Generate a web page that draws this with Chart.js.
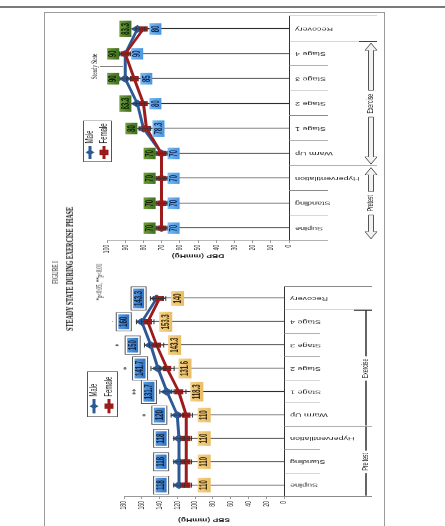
<!DOCTYPE html>
<html lang="en">
<head>
<meta charset="UTF-8">
<title>Figure I</title>
<script src="https://cdn.jsdelivr.net/npm/chart.js"></script>
<style>
  html, body { margin:0; padding:0; overflow:hidden; background:#fff; }
  body { width:445px; height:526px; position:relative; }
  .topline { position:absolute; left:0; top:6px; width:445px; height:2px; background:#7a7a7a; }
  .frame { position:absolute; left:44px; top:12px; width:341px; height:540px; border:1px solid #9a9a9a; box-sizing:border-box; }
  /* the whole figure is drawn upright, then squeezed and turned on its side */
  .fig { position:absolute; left:-225px; top:106px; width:880px; height:340px;
         transform-origin:50% 50%; transform:rotate(-90deg) scaleX(0.6); }
  .fig canvas { position:absolute; top:0; }
  .txt { position:absolute; text-align:center; font-family:"Liberation Serif", serif; color:#111; white-space:nowrap; }
</style>
</head>
<body>
<div class="topline"></div>
<div class="frame"></div>

<div class="fig">
  <canvas id="sbpChart" width="440" height="340" style="left:0;"></canvas>
  <canvas id="dbpChart" width="435" height="340" style="left:445px;"></canvas>
  <div class="txt" style="left:346px;top:4px;width:200px;font-size:9px;line-height:12px;">FIGURE I</div>
  <div class="txt" style="left:302px;top:19px;width:300px;font-size:10px;line-height:12px;font-weight:bold;">STEADY STATE DURING EXERCISE PHASE</div>
  <div class="txt" style="left:330px;top:49px;width:200px;font-size:8px;line-height:12px;">*p&lt;0.05, **p&lt;0.01</div>
</div>

<script>
// ---------------- data ----------------
const categories = ['Supine', 'Standing', 'Hyperventilation', 'Warm Up', 'Stage 1', 'Stage 2', 'Stage 3', 'Stage 4', 'Recovery'];

const sbpMale     = [118, 118, 118, 120, 131.7, 141.7, 150, 160, 143.3];
const sbpFemale   = [110, 110, 110, 110, 118.3, 131.6, 143.3, 153.3, 140];
const sbpMaleSd   = [6, 6, 6, 7, 8, 8, 7, 6, 7];
const sbpFemaleSd = [6, 6, 6, 7, 8, 8, 8, 7, 7];
const sbpSig      = ['', '', '', '*', '**', '*', '*', '.', ''];

const dbpMale     = [70, 70, 70, 70, 80, 83.3, 90, 90, 83.3];
const dbpFemale   = [70, 70, 70, 70, 78.3, 80, 85, 90, 80];
const dbpMaleSd   = [3, 3, 3, 3, 4, 4, 3, 3, 4];
const dbpFemaleSd = [3, 3, 3, 3, 4, 4, 4, 3, 4];

const sbpTicks = { min: 0, max: 180, step: 20 };
const dbpTicks = { min: 0, max: 100, step: 10 };

const seriesNames = ['Male', 'Female'];
const maleColor = '#2d5a96';
const femaleColor = '#9c1c1c';

// ---------------- helpers ----------------
function arrow(ctx, xs, xe, yc) {
  const d = Math.sign(xe - xs), hl = 12, sw = 2.5, hw = 6;
  const xh = xe - d * hl;
  ctx.beginPath();
  ctx.moveTo(xs, yc - sw); ctx.lineTo(xh, yc - sw); ctx.lineTo(xh, yc - hw);
  ctx.lineTo(xe, yc); ctx.lineTo(xh, yc + hw); ctx.lineTo(xh, yc + sw);
  ctx.lineTo(xs, yc + sw); ctx.closePath();
  ctx.fillStyle = '#f2f2f2'; ctx.fill();
  ctx.strokeStyle = '#555'; ctx.lineWidth = 1; ctx.stroke();
}

function marker(ctx, style, cx, cy, r, color) {
  ctx.fillStyle = color;
  ctx.beginPath();
  if (style === 'rectRot') {
    ctx.moveTo(cx, cy - r); ctx.lineTo(cx + r, cy); ctx.lineTo(cx, cy + r); ctx.lineTo(cx - r, cy);
  } else {
    ctx.rect(cx - r, cy - r, 2 * r, 2 * r);
  }
  ctx.closePath(); ctx.fill();
}

// drop lines, separators, brackets, error bars, value boxes, legend
const decoPlugin = {
  id: 'deco',
  beforeDatasetsDraw(chart, args, o) {
    const { ctx, chartArea: ca, scales: { x, y } } = chart;
    const a = chart.data.datasets[0].data, b = chart.data.datasets[1].data;
    ctx.save();
    ctx.lineWidth = 1.3;
    ctx.strokeStyle = '#2e2e2e';
    a.forEach((v, i) => {
      const px = Math.round(x.getPixelForValue(i)) + 0.5;
      ctx.beginPath();
      ctx.moveTo(px, y.getPixelForValue(Math.max(v, b[i])));
      ctx.lineTo(px, ca.bottom);
      ctx.stroke();
    });

    ctx.lineWidth = 1;
    ctx.strokeStyle = '#8a8a8a';
    for (let k = 0; k <= a.length; k++) {
      const px = Math.round(x.getPixelForValue(k - 0.5)) + 0.5;
      const len = o.longAt.includes(k) ? o.longLen : o.shortLen;
      ctx.beginPath(); ctx.moveTo(px, ca.bottom); ctx.lineTo(px, ca.bottom + len); ctx.stroke();
    }
    // end cap of the exercise group
    const pc = x.getPixelForValue(7.5);
    ctx.strokeStyle = '#444'; ctx.lineWidth = 2;
    ctx.beginPath(); ctx.moveTo(pc, ca.bottom + 70); ctx.lineTo(pc, ca.bottom + o.longLen); ctx.stroke();

    ctx.font = '8.5px "Liberation Sans"';
    ctx.textAlign = 'center'; ctx.textBaseline = 'middle';
    o.groups.forEach(g => {
      const x0 = x.getPixelForValue(g.from - 0.5), x1 = x.getPixelForValue(g.to + 0.5);
      const mid = (x0 + x1) / 2, gy = ca.bottom + o.groupY;
      const tw = ctx.measureText(g.label).width;
      ctx.fillStyle = '#222';
      ctx.fillText(g.label, mid, gy);
      if (o.arrows) {
        arrow(ctx, mid - tw / 2 - 6, x0 + 3, gy);
        arrow(ctx, mid + tw / 2 + 6, x1 - 3, gy);
      } else {
        ctx.strokeStyle = '#333'; ctx.lineWidth = 1.5;
        ctx.beginPath();
        ctx.moveTo(x0 + 2, gy); ctx.lineTo(mid - tw / 2 - 4, gy);
        ctx.moveTo(mid + tw / 2 + 4, gy); ctx.lineTo(x1, gy);
        ctx.stroke();
      }
    });
    ctx.restore();
  },
  afterDatasetsDraw(chart, args, o) {
    const { ctx, scales: { x, y } } = chart;
    ctx.save();
    // error bars
    chart.data.datasets.forEach((ds, d) => {
      const sd = o.sd[d];
      ctx.strokeStyle = '#333'; ctx.lineWidth = 1;
      ds.data.forEach((v, i) => {
        const px = x.getPixelForValue(i);
        const y0 = y.getPixelForValue(v - sd[i]), y1 = y.getPixelForValue(v + sd[i]);
        ctx.beginPath();
        ctx.moveTo(px, y0); ctx.lineTo(px, y1);
        ctx.moveTo(px - 4, y0); ctx.lineTo(px + 4, y0);
        ctx.moveTo(px - 4, y1); ctx.lineTo(px + 4, y1);
        ctx.stroke();
      });
    });
    // value boxes
    ctx.font = 'bold 10px "Liberation Sans"';
    ctx.textAlign = 'center'; ctx.textBaseline = 'middle';
    chart.data.datasets.forEach((ds, d) => {
      const st = o.boxes[d];
      ds.data.forEach((v, i) => {
        const cx = x.getPixelForValue(i), cy = y.getPixelForValue(v) + st.dy;
        const t = String(v);
        const w = ctx.measureText(t).width + 8, h = st.h;
        if (st.frame) {
          ctx.fillStyle = '#fff'; ctx.fillRect(cx - w / 2 - 3, cy - h / 2 - 2, w + 6, h + 4);
          ctx.strokeStyle = '#555'; ctx.lineWidth = 1; ctx.strokeRect(cx - w / 2 - 3, cy - h / 2 - 2, w + 6, h + 4);
        }
        const gr = ctx.createLinearGradient(0, cy - h / 2, 0, cy + h / 2);
        gr.addColorStop(0, st.fill[0]); gr.addColorStop(1, st.fill[1]);
        ctx.fillStyle = gr;
        ctx.fillRect(cx - w / 2, cy - h / 2, w, h);
        ctx.fillStyle = st.color;
        ctx.fillText(t, cx, cy + 0.5);
      });
    });
    // significance marks
    if (o.sig) {
      ctx.font = '10px "Liberation Serif"';
      ctx.fillStyle = '#222';
      o.sig.forEach((s, i) => {
        if (!s) return;
        ctx.fillText(s, x.getPixelForValue(i), y.getPixelForValue(chart.data.datasets[0].data[i]) - 31);
      });
    }
    // note
    if (o.note) {
      const nx = x.getPixelForValue(o.note.at);
      ctx.font = '8.5px "Liberation Serif"'; ctx.fillStyle = '#222';
      ctx.fillText(o.note.text, nx, o.note.v);
      ctx.strokeStyle = '#444'; ctx.lineWidth = 1;
      ctx.beginPath(); ctx.moveTo(nx, o.note.v + 5); ctx.lineTo(nx, o.note.v + 28); ctx.stroke();
    }
    // legend
    const L = o.legend;
    ctx.fillStyle = '#fff'; ctx.fillRect(L.x0, L.y0, L.x1 - L.x0, L.y1 - L.y0);
    ctx.strokeStyle = '#555'; ctx.lineWidth = 1;
    ctx.strokeRect(L.x0 + 0.5, L.y0 + 0.5, L.x1 - L.x0, L.y1 - L.y0);
    ctx.font = '10px "Liberation Sans"'; ctx.textAlign = 'left';
    chart.data.datasets.forEach((ds, d) => {
      const ry = L.rows[d];
      ctx.strokeStyle = ds.borderColor; ctx.lineWidth = 3;
      ctx.beginPath(); ctx.moveTo(L.lx, ry); ctx.lineTo(L.lx + L.lw, ry); ctx.stroke();
      marker(ctx, ds.pointStyle, L.lx + L.lw / 2, ry, 4.5, ds.borderColor);
      ctx.fillStyle = '#222';
      ctx.fillText(ds.label, L.lx + L.lw + 4, ry + 0.5);
    });
    ctx.restore();
  }
};

function makeChart(id, male, female, tk, title, pad, yWidth, xHeight, deco) {
  return new Chart(document.getElementById(id), {
    type: 'line',
    data: {
      labels: categories,
      datasets: [
        { label: seriesNames[0], data: male, borderColor: maleColor, backgroundColor: maleColor,
          borderWidth: 3, pointStyle: 'rectRot', pointRadius: 4.5, tension: 0, order: 2 },
        { label: seriesNames[1], data: female, borderColor: femaleColor, backgroundColor: femaleColor,
          borderWidth: 3, pointStyle: 'rect', pointRadius: 4, tension: 0, order: 1 }
      ]
    },
    options: {
      responsive: false,
      animation: false,
      layout: { padding: pad },
      plugins: { legend: { display: false }, tooltip: { enabled: false }, deco: deco },
      scales: {
        x: {
          offset: true,
          grid: { drawOnChartArea: false, drawTicks: false },
          border: { display: true, color: '#333' },
          ticks: { autoSkip: false, minRotation: 90, maxRotation: 90, padding: 6,
                   color: '#333', font: { family: 'Liberation Sans', size: 9 } },
          afterFit: s => { s.height = xHeight; }
        },
        y: {
          min: tk.min, max: tk.max,
          grid: { drawOnChartArea: false, drawTicks: true, tickLength: 4, color: '#999' },
          border: { color: '#999' },
          ticks: { stepSize: tk.step, padding: 3, color: '#222', font: { family: 'Liberation Sans', size: 8.5 } },
          title: { display: true, text: title, color: '#222', font: { family: 'Liberation Sans', size: 8.5, weight: 'bold' } },
          afterFit: s => { s.width = yWidth; }
        }
      }
    },
    plugins: [decoPlugin]
  });
}

makeChart('sbpChart', sbpMale, sbpFemale, sbpTicks, 'SBP (mmHg)',
  { left: 25, right: 18, top: 79, bottom: 0 }, 47, 101, {
    longAt: [0, 3, 8, 9], shortLen: 36, longLen: 88, groupY: 82, arrows: false,
    groups: [{ label: 'Pre test', from: 0, to: 2 }, { label: 'Exercise', from: 3, to: 7 }],
    sd: [sbpMaleSd, sbpFemaleSd],
    sig: sbpSig,
    boxes: [
      { dy: -18, h: 11, fill: ['#5a9be0', '#2f72c4'], color: '#10233f', frame: true },
      { dy: 18, h: 13, fill: ['#f5d189', '#e9bd63'], color: '#3a2a0c', frame: false }
    ],
    legend: { x0: 205, x1: 280, y0: 42, y1: 72, lx: 211, lw: 24, rows: [49, 64] }
  });

makeChart('dbpChart', dbpMale, dbpFemale, dbpTicks, 'DBP (mmHg)',
  { left: 20, right: 5, top: 62, bottom: 0 }, 34, 96, {
    longAt: [3, 8, 9], shortLen: 39, longLen: 88, groupY: 82, arrows: true,
    groups: [{ label: 'Pretest', from: 0, to: 2 }, { label: 'Exercise', from: 3, to: 7 }],
    sd: [dbpMaleSd, dbpFemaleSd],
    boxes: [
      { dy: -12, h: 12, fill: ['#6f9c3c', '#3f6e1f'], color: '#102008', frame: false },
      { dy: 12, h: 12, fill: ['#7ab8f2', '#4a95e0'], color: '#0f2a55', frame: false }
    ],
    note: { text: 'Steady State', at: 6.5, v: 50 },
    legend: { x0: 185, x1: 253, y0: 38, y1: 66, lx: 190, lw: 22, rows: [45, 59] }
  });
</script>
</body>
</html>
